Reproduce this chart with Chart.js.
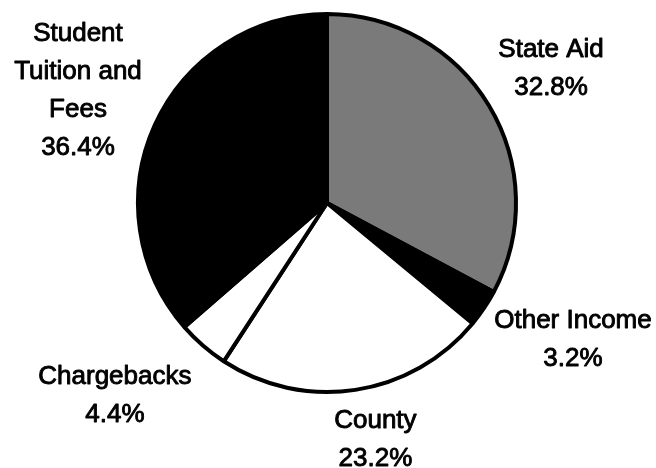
<!DOCTYPE html>
<html>
<head>
<meta charset="utf-8">
<script src="https://cdn.jsdelivr.net/npm/chart.js@4.4.1/dist/chart.umd.min.js"></script>
<style>
  html, body { margin: 0; padding: 0; background: #fff; }
  #wrap { width: 656px; height: 468px; }
</style>
</head>
<body>
<div id="wrap"><canvas id="pie" width="656" height="468"></canvas></div>
<script>
// Revenue sources, clockwise from 12 o'clock
const categories = ['State Aid', 'Other Income', 'County', 'Chargebacks', 'Student Tuition and Fees'];
const shares = [32.8, 3.2, 23.2, 4.4, 36.4];
// label text split into lines
const labelLines = [
    ['State Aid'],
    ['Other Income'],
    ['County'],
    ['Chargebacks'],
    ['Student', 'Tuition and', 'Fees']
];

const sliceColors = ['#7a7a7a', '#000000', '#ffffff', '#ffffff', '#000000'];
// label block offset from the slice's rim midpoint
const labelOffset = [[62, -37], [89, 32], [20, 50], [-88, 50], [-77, -34]];

const outsideLabels = {
    id: 'outsideLabels',
    afterDatasetsDraw(chart) {
        const ctx = chart.ctx;
        const meta = chart.getDatasetMeta(0);
        ctx.save();
        ctx.fillStyle = '#000';
        ctx.strokeStyle = '#000';
        ctx.lineWidth = 0.9;
        ctx.lineJoin = 'round';
        ctx.font = '26px "Liberation Sans", Arial, sans-serif';
        ctx.textAlign = 'center';
        ctx.textBaseline = 'middle';
        const lineH = 38;
        meta.data.forEach((arc, i) => {
            const p = arc.getProps(['x', 'y', 'startAngle', 'endAngle', 'outerRadius'], true);
            const mid = (p.startAngle + p.endAngle) / 2;
            const cx = p.x + Math.cos(mid) * p.outerRadius + labelOffset[i][0];
            const cy = p.y + Math.sin(mid) * p.outerRadius + labelOffset[i][1];
            const lines = labelLines[i].concat([shares[i].toFixed(1) + '%']);
            const top = cy - (lines.length - 1) * lineH / 2;
            lines.forEach((t, k) => {
                ctx.fillText(t, cx, top + k * lineH);
                ctx.strokeText(t, cx, top + k * lineH);   // scan-like heavier strokes
            });
        });
        ctx.restore();
    }
};

const ctx = document.getElementById('pie').getContext('2d');
const pieChart = new Chart(ctx, {
    type: 'pie',
    data: {
        labels: categories,
        datasets: [{
            data: shares,
            backgroundColor: sliceColors,
            borderColor: '#000',
            borderWidth: 4
        }]
    },
    options: {
        responsive: false,
        animation: false,
        devicePixelRatio: 1,
        layout: {
            padding: { left: 136, right: 138, top: 12, bottom: 74 }
        },
        plugins: {
            legend: { display: false },
            tooltip: { enabled: false }
        }
    },
    plugins: [outsideLabels]
});
</script>
</body>
</html>
